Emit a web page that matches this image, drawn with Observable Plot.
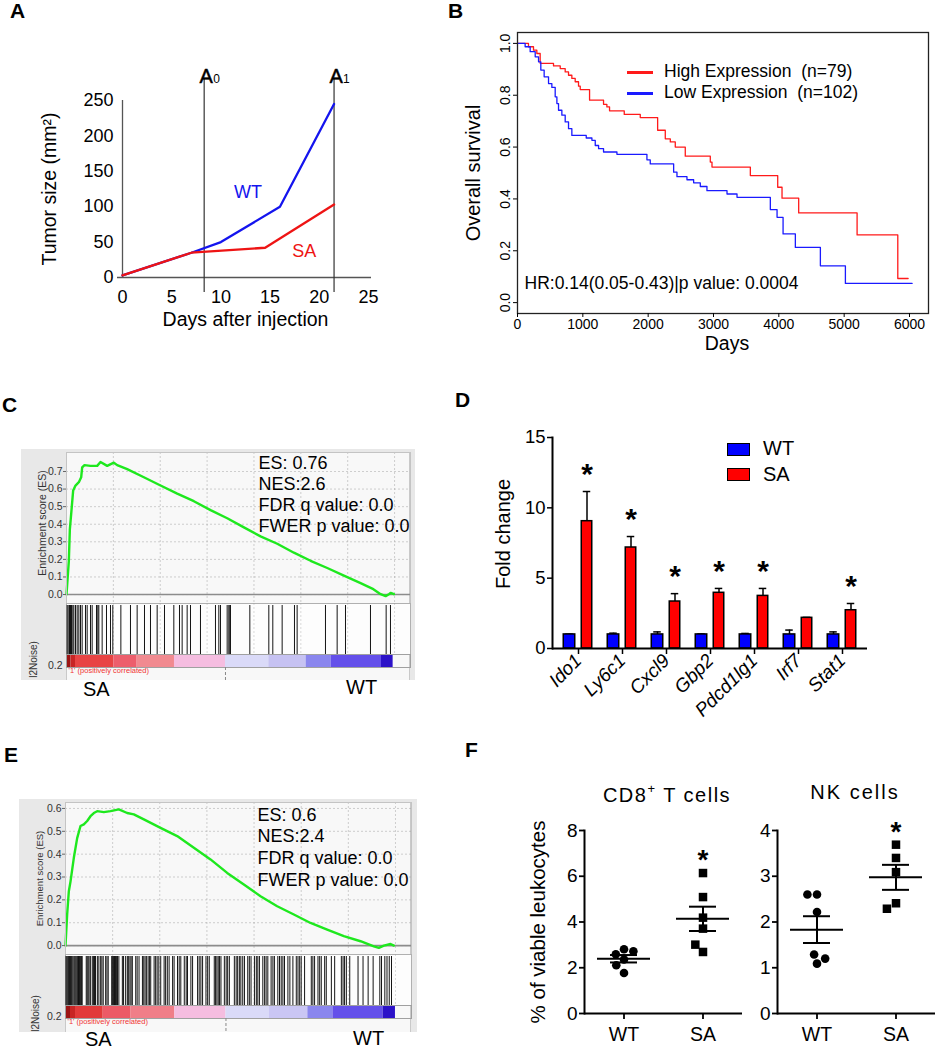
<!DOCTYPE html>
<html>
<head>
<meta charset="utf-8">
<script src="https://cdn.jsdelivr.net/npm/d3@7"></script>
<script src="https://cdn.jsdelivr.net/npm/@observablehq/plot@0.6"></script>
<style>
html,body{margin:0;padding:0;background:#fff;}
#fig{position:relative;width:935px;height:1050px;overflow:hidden;background:#fff;font-family:"Liberation Sans",Arial,Helvetica,sans-serif;color:#000;}
#fig .t{position:absolute;white-space:pre;line-height:1;}
#fig svg{position:absolute;overflow:visible;}
</style>
</head>
<body>
<div id="fig"></div>
<script>
// ================= DATA =================
// Panel A – tumour growth
const aXTicks = [0, 5, 10, 15, 20, 25];
const aYTicks = [0, 50, 100, 150, 200, 250];
const aDaysWT = [0, 7, 10, 16, 21.5];
const aSizeWT = [3, 35, 50, 100, 245];
const aDaysSA = [0, 7, 14.5, 21.5];
const aSizeSA = [3, 35, 42, 103];
const aTimepointDays = [8.3, 21.5];
const aTimepointSubs = ["0", "1"];

// Panel B – Kaplan-Meier
const bXTicks = [0, 1000, 2000, 3000, 4000, 5000, 6000];
const bYTicks = [0, 0.2, 0.4, 0.6, 0.8, 1.0];
const kmHighDays = [0,168,245,296,347,551,654,730,781,832,883,934,960,1103,1317,1368,1409,1634,1879,2145,2262,2339,2415,2568,2951,2977,3564,3983,4049,4304,5198,5821,5979];
const kmHighSurv = [1,0.987,0.974,0.961,0.923,0.913,0.903,0.89,0.877,0.865,0.852,0.835,0.822,0.781,0.765,0.755,0.74,0.726,0.714,0.665,0.632,0.62,0.60,0.565,0.542,0.523,0.49,0.445,0.403,0.346,0.261,0.093,0.093];
const kmLowDays = [0,117,194,271,322,357,408,475,526,577,603,628,679,730,781,832,1052,1139,1190,1241,1317,1522,1981,2032,2390,2441,2594,2696,2798,2900,3207,3360,3870,3973,4065,4253,4636,5019,6040];
const kmLowSurv = [1,0.987,0.968,0.948,0.929,0.897,0.871,0.845,0.83,0.794,0.768,0.742,0.723,0.697,0.671,0.645,0.635,0.626,0.606,0.594,0.581,0.572,0.551,0.535,0.503,0.486,0.474,0.462,0.448,0.432,0.419,0.406,0.359,0.329,0.265,0.213,0.142,0.074,0.074];
const bLegend = ["High Expression  (n=79)", "Low Expression  (n=102)"];
const bHR = "HR:0.14(0.05-0.43)|p value: 0.0004";

// Panels C / E – GSEA
const gseaRankMax = 18350;
const gseaGrid = [2500, 5000, 7500, 10000, 12500, 15000, 17500];
const cRank = [0,124,178,356,480,658,783,836,960,1281,1637,1814,2170,2526,2704,3237,4127,5016,5906,6795,7684,8574,9463,10352,11242,12131,13020,13911,14798,15688,16311,16756,17023,17200,17289,17467];
const cES = [0,0.19,0.369,0.592,0.62,0.639,0.667,0.723,0.736,0.732,0.732,0.754,0.732,0.75,0.736,0.713,0.667,0.62,0.574,0.531,0.48,0.434,0.382,0.331,0.289,0.238,0.192,0.151,0.108,0.065,0.034,0.002,-0.009,0.002,0.009,0.002];
const cHits = [35,89,160,213,266,337,391,480,569,658,746,835,1013,1102,1280,1369,1600,1671,1724,1902,2133,2347,2471,2900,3413,3769,4160,4480,4836,5227,5725,6027,6169,6436,6614,7147,7947,8125,8214,8570,8659,8712,8747,9780,10792,11005,11503,12161,12303,13815,14437,14882,16215,17051,17282];
const cStrip = [0,240,480,2524,3769,5760,8480,10792,12783,14117,16802,17423];
const cStripColors = ["#9c1414","#c82424","#e84444","#ed5e6c","#f18a90","#f5bde0","#dadaf8","#c6c2f2","#8a86ee","#6450ea","#2c12c8"];
const cYTicks = [0,0.1,0.2,0.3,0.4,0.5,0.6,0.7];
const cStats = ["ES: 0.76", "NES:2.6", "FDR q value: 0.0", "FWER p value: 0.0"];

const eRank = [0,88,177,265,442,619,796,972,1149,1326,1503,1680,2033,2387,2829,3271,3624,4155,5039,5923,6807,7691,8575,9459,10343,11227,12111,12995,13879,14762,15647,16353,16618,16884,17238,17414];
const eES = [0,0.136,0.238,0.28,0.384,0.47,0.523,0.53,0.545,0.566,0.58,0.588,0.584,0.588,0.596,0.58,0.574,0.552,0.515,0.479,0.428,0.377,0.318,0.267,0.216,0.172,0.136,0.099,0.07,0.041,0.019,-0.003,-0.01,0,0.007,0];
const eHits = [25,70,120,165,215,262,310,350,400,455,500,548,600,645,690,740,790,845,885,
  1100,1150,1200,1250,1320,1420,1480,1540,1590,1690,1770,1865,1930,2000,2130,2200,2265,
  2450,2500,2550,2600,2650,2700,2760,2830,3015,3080,3190,3280,3350,3420,3480,3545,3725,3800,3900,
  4080,4150,4220,4290,4380,4450,4520,4700,4780,4860,4950,5050,5230,5310,5400,5495,5680,5760,
  5940,6030,6115,6300,6400,6470,6650,6740,7005,7090,7180,7270,7450,7540,7625,
  7890,7960,8030,8100,8170,8245,8425,8520,8600,8690,8955,9050,9130,9220,9300,9400,9490,
  9665,9750,9840,10020,10120,10200,10285,10465,10560,10640,10730,10905,11000,11080,
  11260,11350,11440,11530,11615,11795,11900,12060,12240,12330,12420,12500,12680,
  13035,13120,13210,13390,13480,13565,13745,13830,14100,14275,14630,14720,14800,14895,
  15075,15515,15780,16050,16315,16670,16760,16935,17050,17170,17290];
const eStrip = [0,265,531,2000,3457,5797,8510,10815,12854,14184,16843,17499];
const eStripColors = ["#9c1414","#c82424","#e23a3a","#ec5a66","#f07e88","#f5bde0","#dadaf8","#cac6f4","#8a86ee","#6450ea","#2c12c8"];
const eYTicks = [0,0.1,0.2,0.3,0.4,0.5,0.6];
const eStats = ["ES: 0.6", "NES:2.4", "FDR q value: 0.0", "FWER p value: 0.0"];

// Panel D – qPCR fold change
const dGenes = ["Ido1","Ly6c1","Cxcl9","Gbp2","Pdcd1lg1","Irf7","Stat1"];
const dWT = [1,1,1,1,1,1,1];
const dWTErr = [0.02,0.09,0.18,0.03,0.07,0.31,0.18];
const dSA = [9.05,7.18,3.34,3.96,3.74,2.18,2.72];
const dSAErr = [2.11,0.78,0.56,0.31,0.53,0.03,0.48];
const dSig = [true,true,true,true,true,false,true];
const dYTicks = [0,5,10,15];

// Panel F – flow cytometry
const fCD8WT = [2.36,1.77,2.81,2.59,2.72,2.11];
const fCD8SA = [4.19,3.71,5.09,2.69,6.14,3.01];
const fNKWT = [2.22,1.09,2.6,1.29,2.6,1.2];
const fNKSA = [3.09,3.4,2.41,3.69,2.29];

// ================= HELPERS =================
const FONT = '"Liberation Sans", Arial, Helvetica, sans-serif';
const fig = document.getElementById("fig");
function mount(node, left, top) {
  node.style.position = "absolute";
  node.style.left = left + "px";
  node.style.top = top + "px";
  fig.appendChild(node);
  return node;
}
function label(html, left, top, css = {}) {
  const d = document.createElement("div");
  d.className = "t";
  d.innerHTML = html;
  Object.assign(d.style, {left: left + "px", top: top + "px"}, css);
  fig.appendChild(d);
  return d;
}
// vertical (rotated) title centred on (cx, cy)
function vlabel(html, cx, cy, fs) {
  return label(html, cx, cy, {fontSize: fs + "px", transform: "translate(-50%,-50%) rotate(-90deg)", transformOrigin: "50% 50%"});
}
function box(left, top, w, h, css) {
  const d = document.createElement("div");
  Object.assign(d.style, {position: "absolute", left: left + "px", top: top + "px", width: w + "px", height: h + "px"}, css);
  fig.appendChild(d);
  return d;
}
const baseStyle = (fs) => ({background: "transparent", overflow: "visible", fontFamily: FONT, fontSize: fs + "px", color: "#000"});
const ident = d => d;
const plain = d => String(d);

// ================= PANEL LETTERS =================
[["A",10,0],["B",448,0],["C",2,394],["D",455,389],["E",4,744],["F",465,739]].forEach(([t,l,tp]) =>
  label(t, l, tp, {fontWeight: "bold", fontSize: "21px"}));

// ================= PANEL A =================
{
  const wt = aDaysWT.map((d, i) => ({day: d, size: aSizeWT[i]}));
  const sa = aDaysSA.map((d, i) => ({day: d, size: aSizeSA[i]}));
  const tp = aTimepointDays.map((d, i) => ({day: d, sub: aTimepointSubs[i]}));
  const p = Plot.plot({
    width: 420, height: 340, marginLeft: 122, marginRight: 52, marginTop: 100, marginBottom: 63,
    x: {domain: [0, 25]}, y: {domain: [0, 250]},
    style: baseStyle(18),
    marks: [
      Plot.ruleX([0], {stroke: "#555", strokeWidth: 1.3}),
      Plot.ruleY([0], {stroke: "#555", strokeWidth: 1.3, insetLeft: -5, insetRight: -3}),
      Plot.ruleX(tp, {x: "day", stroke: "#333", strokeWidth: 1.2, insetTop: -22, insetBottom: -15}),
      Plot.text(tp, {x: "day", frameAnchor: "top", textAnchor: "middle", text: () => "A", dy: -32, dx: 2, fontSize: 20, fill: "#000", stroke: "#000", strokeWidth: 0.5}),
      Plot.text(tp, {x: "day", frameAnchor: "top", textAnchor: "start", text: "sub", dy: -26, dx: 9, fontSize: 12}),
      Plot.line(wt, {x: "day", y: "size", stroke: "#1414ee", strokeWidth: 2.3}),
      Plot.line(sa, {x: "day", y: "size", stroke: "#ee1414", strokeWidth: 2.3}),
      Plot.text([wt[2]], {x: "day", y: "size", text: () => "WT", dx: 27, dy: -50, fill: "#1414ee", fontSize: 18}),
      Plot.text([sa[2]], {x: "day", y: "size", text: () => "SA", dx: 39, dy: 3, fill: "#ee1414", fontSize: 18}),
      Plot.axisX({ticks: aXTicks, tickSize: 0, tickPadding: 13, fontSize: 18, label: null}),
      Plot.axisY({ticks: aYTicks, tickSize: 0, tickPadding: 9, fontSize: 18, label: null}),
      Plot.text(["Days after injection"], {text: ident, frameAnchor: "bottom", textAnchor: "middle", dy: 48, fontSize: 19.5})
    ]
  });
  mount(p, 0, 0);
  vlabel("Tumor size (mm²)", 50, 188.5, 19.5);
}

// ================= PANEL B =================
{
  const hi = kmHighDays.map((d, i) => ({day: d, s: kmHighSurv[i]}));
  const lo = kmLowDays.map((d, i) => ({day: d, s: kmLowSurv[i]}));
  const dims = {width: 515, height: 365, marginLeft: 97, marginRight: 7, marginTop: 32, marginBottom: 52};
  const p = Plot.plot({
    ...dims,
    x: {domain: [0, 6291]}, y: {domain: [-0.042, 1.042]},
    style: baseStyle(14),
    marks: [
      Plot.line(hi, {x: "day", y: "s", curve: "step-after", stroke: "#ff1a1a", strokeWidth: 1.3}),
      Plot.line(lo, {x: "day", y: "s", curve: "step-after", stroke: "#1a1aff", strokeWidth: 1.3}),
      Plot.frame({stroke: "#222", strokeWidth: 1.3}),
      Plot.axisX({ticks: bXTicks, tickSize: 4, tickPadding: 2, tickFormat: plain, fontSize: 14, label: null}),
      Plot.axisY({ticks: bYTicks, tickSize: 4, tickFormat: () => "", label: null}),
      Plot.text(["Days"], {text: ident, frameAnchor: "bottom", textAnchor: "middle", dy: 36, dx: 4, fontSize: 19.5}),
      Plot.text([bHR], {text: ident, frameAnchor: "bottom-left", textAnchor: "start", dx: 7, dy: -25, fontSize: 17.5})
    ]
  });
  mount(p, 420, 0);
  // overlay: rotated y tick labels on the same y scale
  const t = Plot.plot({
    ...dims, y: {domain: [-0.042, 1.042], axis: null}, style: baseStyle(14),
    marks: [
      Plot.text(bYTicks, {y: ident, text: d => d.toFixed(1), frameAnchor: "left", textAnchor: "middle", dx: -12, rotate: -90, fontSize: 14})
    ]
  });
  mount(t, 420, 0);
  vlabel("Overall survival", 473, 172.5, 20);
  box(627, 70.5, 26, 3.5, {background: "#ff1a1a"});
  box(627, 91.5, 26, 3.5, {background: "#1a1aff"});
  label(bLegend[0], 664, 63, {fontSize: "17.5px"});
  label(bLegend[1], 664, 84, {fontSize: "17.5px"});
}

// ================= PANELS C / E (GSEA) =================
function gsea(c) {
  const P = c.panel;
  const W = P.r - P.l, mL = c.frameL - P.l, mR = P.r - c.frameR;
  box(P.l, P.t, W, P.b - P.t, {background: "#e8e8e8"});
  box(c.frameL, c.upperTop, c.frameR - c.frameL, P.b - c.upperTop,
      {background: "#f8f8f8", boxSizing: "border-box", borderLeft: "1px solid #c9c9c9", borderRight: "1px solid #c9c9c9"});
  const curve = c.rank.map((r, i) => ({rank: r, es: c.es[i]}));
  const up = Plot.plot({
    width: W, height: c.upperBottom - P.t,
    marginLeft: mL, marginRight: mR, marginTop: c.upperTop - P.t, marginBottom: 0,
    x: {domain: [0, gseaRankMax], axis: null}, y: {domain: c.yDomain},
    style: baseStyle(10.5),
    marks: [
      Plot.gridX({ticks: gseaGrid, stroke: "#999", strokeOpacity: 0.45, strokeDasharray: "2,2"}),
      Plot.gridY({ticks: c.yTicks, stroke: "#999", strokeOpacity: 0.45, strokeDasharray: "2,2"}),
      Plot.ruleY([0], {stroke: "#8c8c8c", strokeWidth: 1.6}),
      Plot.line(curve, {x: "rank", y: "es", stroke: "#1ee81e", strokeWidth: 2.4}),
      Plot.frame({stroke: "#c4c4c4"}),
      Plot.axisY({ticks: c.yTicks, tickSize: 3, tickPadding: 1, tickFormat: d => d.toFixed(1), fontSize: 10.5, label: null, stroke: "#666", fill: "#333"}),
      Plot.text(["Enrichment score (ES)"], {text: ident, frameAnchor: "left", textAnchor: "middle", rotate: -90, dx: c.titleDx, dy: c.titleDy, fontSize: c.titleSize, fill: "#333"}),
      Plot.text([c.stats.join("\n")], {text: ident, frameAnchor: "top-left", lineAnchor: "top", textAnchor: "start", dx: 192, dy: c.statsDy, fontSize: 18, lineHeight: c.statsLH})
    ]
  });
  mount(up, P.l, P.t);
  const hits = Plot.plot({
    width: W, height: c.hitsBottom - c.upperBottom, marginLeft: mL, marginRight: mR, marginTop: 0, marginBottom: 0,
    x: {domain: [0, gseaRankMax], axis: null},
    style: baseStyle(10),
    marks: [
      Plot.frame({fill: "#fdfdfd", stroke: "#b0b0b0"}),
      Plot.gridX({ticks: gseaGrid, stroke: "#999", strokeOpacity: 0.35, strokeDasharray: "2,2"}),
      Plot.ruleX(c.hits, {x: ident, stroke: "#141414", strokeWidth: 1, insetTop: 2})
    ]
  });
  mount(hits, P.l, c.upperBottom);
  const segs = c.strip.slice(1).map((b, i) => ({a: c.strip[i], b, color: c.colors[i]}));
  const stripH = c.stripBottom - c.hitsBottom, lowH = P.b - c.stripBottom;
  const strip = Plot.plot({
    width: W, height: P.b - c.hitsBottom, marginLeft: mL, marginRight: mR, marginTop: 0, marginBottom: lowH,
    x: {domain: [0, gseaRankMax], axis: null}, color: {type: "identity"},
    style: baseStyle(10),
    marks: [
      Plot.rect(segs, {x1: "a", x2: "b", fill: "color"}),
      Plot.frame({stroke: "#a0a0a0"}),
      Plot.ruleX([c.strip[6]], {x: ident, stroke: "#888", strokeDasharray: "3,2", insetTop: stripH, insetBottom: -lowH}),
      Plot.text(["0.2"], {text: ident, frameAnchor: "bottom-left", textAnchor: "end", dx: -4, dy: 1, fontSize: 10.5, fill: "#333"}),
      Plot.text(["'1' (positively correlated)"], {text: ident, frameAnchor: "bottom-left", textAnchor: "start", dx: 2, dy: 5, fontSize: 7.5, fill: "#f03535"}),
      Plot.text(["l2Noise)"], {text: ident, frameAnchor: "left", textAnchor: "middle", rotate: -90, dx: c.noiseDx, dy: c.noiseDy, fontSize: 10, fill: "#333"})
    ]
  });
  mount(strip, P.l, c.hitsBottom);
  label("SA", c.saPos[0], c.saPos[1], {fontSize: "20px", lineHeight: "0.95"});
  label("WT", c.wtPos[0], c.wtPos[1], {fontSize: "20px", lineHeight: "0.95"});
}
gsea({
  panel: {l: 21, t: 449, r: 415, b: 680}, frameL: 66, frameR: 410,
  upperTop: 452, upperBottom: 603, hitsBottom: 654, stripBottom: 667,
  yDomain: [-0.051, 0.808], yTicks: cYTicks, rank: cRank, es: cES, hits: cHits,
  strip: cStrip, colors: cStripColors, stats: cStats, statsDy: 2, statsLH: 1.167,
  titleDx: -24, titleDy: -5, titleSize: 10.5, noiseDx: -33, noiseDy: -1.5,
  saPos: [83, 680], wtPos: [346, 678]
});
gsea({
  panel: {l: 19, t: 799, r: 417, b: 1032}, frameL: 65, frameR: 411,
  upperTop: 802, upperBottom: 954, hitsBottom: 1005, stripBottom: 1018,
  yDomain: [-0.039, 0.626], yTicks: eYTicks, rank: eRank, es: eES, hits: eHits,
  strip: eStrip, colors: eStripColors, stats: eStats, statsDy: 3, statsLH: 1.2,
  titleDx: -26, titleDy: 0, titleSize: 9.5, noiseDx: -30, noiseDy: 1.5,
  saPos: [85, 1030], wtPos: [353, 1029]
});

// ================= PANEL D =================
{
  const rows = dGenes.map((g, i) => ({gene: g, wt: dWT[i], wtErr: dWTErr[i], sa: dSA[i], saErr: dSAErr[i], sig: dSig[i]}));
  const p = Plot.plot({
    width: 505, height: 360, marginLeft: 122, marginRight: 68, marginTop: 67, marginBottom: 82,
    x: {domain: dGenes, paddingInner: 0, paddingOuter: 0.04}, y: {domain: [0, 15]},
    style: baseStyle(18.5),
    marks: [
      Plot.ruleX(rows, {x: "gene", y1: "wt", y2: d => d.wt + d.wtErr, dx: -9, strokeWidth: 1.5}),
      Plot.tickY(rows, {x: "gene", y: d => d.wt + d.wtErr, insetLeft: 9.25, insetRight: 27.25, strokeWidth: 1.5}),
      Plot.ruleX(rows, {x: "gene", y1: "sa", y2: d => d.sa + d.saErr, dx: 8.5, strokeWidth: 1.5}),
      Plot.tickY(rows, {x: "gene", y: d => d.sa + d.saErr, insetLeft: 26.75, insetRight: 9.75, strokeWidth: 1.5}),
      Plot.barY(rows, {x: "gene", y: "wt", fill: "#0000ff", stroke: "#000", strokeWidth: 1.5, insetLeft: 7.25, insetRight: 25.25}),
      Plot.barY(rows, {x: "gene", y: "sa", fill: "#ff0000", stroke: "#000", strokeWidth: 1.5, insetLeft: 25.25, insetRight: 8.25}),
      Plot.ruleY([0], {strokeWidth: 2}),
      Plot.frame({anchor: "left", strokeWidth: 2}),
      Plot.axisY({ticks: dYTicks, tickSize: 5, tickPadding: 2, fontSize: 18.5, label: null, strokeWidth: 1.5}),
      Plot.axisX({tickSize: 6, tickPadding: 3, tickRotate: -45, fontSize: 19, label: null, strokeWidth: 1.5}),
      Plot.text(rows.filter(d => d.sig), {x: "gene", y: d => d.sa + d.saErr, text: () => "*", textAnchor: "middle", dx: 8.5, dy: -17, fontSize: 30, fontWeight: "bold"}),
      Plot.text(["Fold change"], {text: ident, frameAnchor: "left", textAnchor: "middle", rotate: -90, dx: -49, dy: -9, fontSize: 20})
    ]
  });
  d3.select(p).selectAll('g[aria-label="x-axis tick label"] text').attr("font-style", "italic");
  mount(p, 430, 370);
  box(727, 443, 23, 13, {background: "#0000ff", border: "1.5px solid #000", boxSizing: "border-box"});
  box(727, 468, 23, 12.5, {background: "#ff0000", border: "1.5px solid #000", boxSizing: "border-box"});
  label("WT", 763, 438, {fontSize: "20px"});
  label("SA", 763, 464, {fontSize: "20px"});
}

// ================= PANEL F =================
function dotPanel(cfg) {
  const rows = [...cfg.wt.map(v => ({g: "WT", v})), ...cfg.sa.map(v => ({g: "SA", v}))];
  const stats = ["WT", "SA"].map(g => {
    const vs = rows.filter(r => r.g === g).map(r => r.v);
    const m = d3.mean(vs), se = d3.deviation(vs) / Math.sqrt(vs.length);
    return {g, m, lo: m - se, hi: m + se};
  });
  const star = [{g: "SA", v: d3.max(cfg.sa)}];
  return Plot.plot({
    width: cfg.width, height: 290, marginLeft: cfg.mL, marginRight: cfg.mR, marginTop: 70, marginBottom: 37,
    fx: {domain: ["WT", "SA"], padding: 0}, y: {domain: cfg.yDomain},
    style: baseStyle(19),
    marks: [
      Plot.ruleY([0], {strokeWidth: 2}),
      Plot.frame({anchor: "left", facetAnchor: "left", strokeWidth: 2}),
      Plot.axisY({ticks: cfg.yTicks, tickSize: 5, tickPadding: 2, tickFormat: plain, fontSize: 19, label: null, strokeWidth: 1.8}),
      Plot.axisFx({anchor: "bottom", tickSize: 6, tickPadding: 8, fontSize: 19.5, label: null, strokeWidth: 1.8}),
      Plot.dot(rows.filter(r => r.g === "WT"), Plot.dodgeX("middle", {fx: "g", y: "v", r: 4.3, fill: "#000", stroke: "none", symbol: "circle", padding: 1.5})),
      Plot.dot(rows.filter(r => r.g === "SA"), Plot.dodgeX("middle", {fx: "g", y: "v", r: 4.8, fill: "#000", stroke: "none", symbol: "square", padding: 1.5})),
      Plot.ruleY(stats, {fx: "g", y: "m", insetLeft: 13, insetRight: 13, strokeWidth: 2}),
      Plot.ruleY(stats, {fx: "g", y: "hi", insetLeft: 26, insetRight: 26, strokeWidth: 2}),
      Plot.ruleY(stats, {fx: "g", y: "lo", insetLeft: 26, insetRight: 26, strokeWidth: 2}),
      Plot.ruleX(stats, {fx: "g", x: null, y1: "lo", y2: "hi", strokeWidth: 2}),
      Plot.text(star, {fx: "g", y: "v", text: () => "*", textAnchor: "middle", dy: -13, fontSize: 28, fontWeight: "bold"})
    ]
  });
}
mount(dotPanel({wt: fCD8WT, sa: fCD8SA, width: 250, mL: 84, mR: 8, yDomain: [0, 8], yTicks: [0, 2, 4, 6, 8]}), 500, 760);
mount(dotPanel({wt: fNKWT, sa: fNKSA, width: 235, mL: 77, mR: 0, yDomain: [0, 4], yTicks: [0, 1, 2, 3, 4]}), 700, 760);
vlabel("% of viable leukocytes", 538, 921.5, 20.5);
label("CD8<sup style=\"font-size:13px;vertical-align:9px\">+</sup> T cells", 567, 782, {fontSize: "20px", width: "200px", textAlign: "center", letterSpacing: "1.5px"});
label("NK cells", 775, 782, {fontSize: "20px", width: "160px", textAlign: "center", letterSpacing: "2px"});
</script>
</body>
</html>
